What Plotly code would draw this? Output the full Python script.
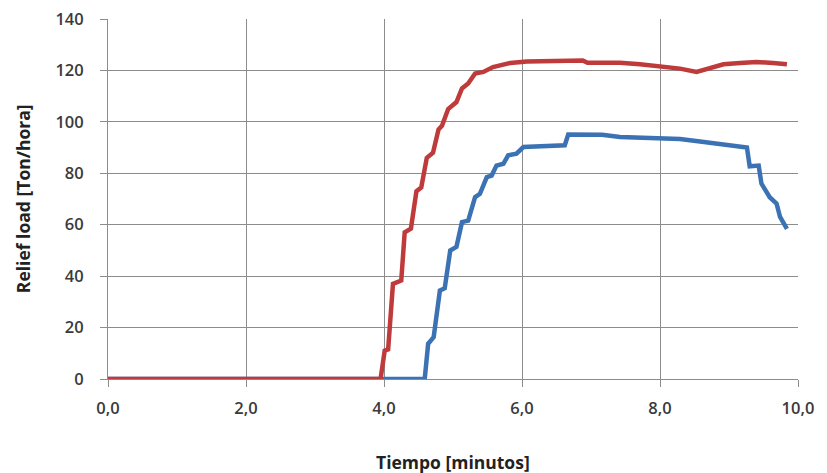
import plotly.graph_objects as go

# Red series
red_t = [0.0, 3.95, 4.01, 4.06, 4.13, 4.25, 4.30, 4.39, 4.47, 4.54, 4.62, 4.71, 4.79, 4.84,
         4.93, 5.05, 5.13, 5.22, 5.32, 5.44, 5.58, 5.83, 6.07, 6.55, 6.88, 6.95, 7.42, 7.71,
         8.0, 8.29, 8.53, 8.68, 8.92, 9.16, 9.40, 9.64, 9.84]
red_v = [0, 0, 11, 11.5, 37, 38.3, 57, 58.5, 73, 74.5, 86, 88, 97, 98.5,
         105, 107.7, 113, 114.9, 118.8, 119.4, 121.3, 122.9, 123.5, 123.6, 123.9, 123.0, 123.0, 122.4,
         121.6, 120.7, 119.4, 120.7, 122.4, 122.9, 123.3, 122.9, 122.4]

# Blue series
blue_t = [0.0, 4.59, 4.64, 4.72, 4.81, 4.88, 4.96, 5.05, 5.13, 5.22, 5.32, 5.39, 5.49, 5.56,
          5.63, 5.73, 5.80, 5.92, 6.02, 6.55, 6.62, 6.67, 7.16, 7.42, 8.0, 8.29, 8.58, 8.82,
          9.06, 9.26, 9.30, 9.43, 9.47, 9.59, 9.69, 9.74, 9.84]
blue_v = [0, 0, 13.7, 16.3, 34.4, 35.3, 50, 51.4, 61, 61.6, 70.7, 72, 78.5, 79.1,
          83, 83.7, 87, 87.6, 90.2, 90.9, 90.9, 95.1, 95.0, 94.1, 93.8, 93.3, 92.4, 91.5,
          90.5, 90.0, 82.7, 83.0, 76.0, 70.7, 68.2, 63.0, 58.4]

x_ticks = [0, 2, 4, 6, 8, 10]
x_ticklabels = ["0,0", "2,0", "4,0", "6,0", "8,0", "10,0"]
y_ticks = [0, 20, 40, 60, 80, 100, 120, 140]
x_title = "Tiempo [minutos]"
y_title = "Relief load [Ton/hora]"

fig = go.Figure()
fig.add_trace(go.Scatter(x=blue_t, y=blue_v, mode="lines",
                         line=dict(color="#3B72B4", width=4.5), showlegend=False))
fig.add_trace(go.Scatter(x=red_t, y=red_v, mode="lines",
                         line=dict(color="#BF3B3B", width=4.5), showlegend=False))

font = "Open Sans"
grid = "#8C8C8C"
tick_color = "#3A3A3A"
fig.update_layout(
    width=827, height=473,
    margin=dict(l=108, r=29, t=19, b=94),
    paper_bgcolor="white", plot_bgcolor="white",
    font=dict(family=font, color=tick_color, size=16),
    xaxis=dict(range=[0, 10], tickvals=x_ticks, ticktext=x_ticklabels,
               showgrid=True, gridcolor=grid, gridwidth=1,
               showline=True, linecolor=grid, linewidth=1,
               ticks="outside", ticklen=7, tickcolor=grid,
               zeroline=False, automargin=False, ticklabelstandoff=7,
               ticklabeloverflow="allow",
               tickfont=dict(family=font, size=16.5, color=tick_color, weight=600)),
    yaxis=dict(range=[0, 140], tickvals=y_ticks,
               showgrid=True, gridcolor=grid, gridwidth=1,
               showline=True, linecolor=grid, linewidth=1,
               ticks="outside", ticklen=7, tickcolor=grid,
               zeroline=False, automargin=False, ticklabelstandoff=13,
               ticklabeloverflow="allow",
               tickfont=dict(family=font, size=16.5, color=tick_color, weight=600)),
    annotations=[
        dict(text="<b>" + x_title + "</b>", xref="paper", yref="paper",
             x=0.5, y=-0.23, xanchor="center", yanchor="middle", showarrow=False,
             font=dict(family=font, size=17.5, color="#222222")),
        dict(text="<b>" + y_title + "</b>", xref="paper", yref="paper",
             x=-0.123, y=0.5, xanchor="center", yanchor="middle", showarrow=False,
             textangle=-90, font=dict(family=font, size=17.5, color="#222222")),
    ],
)
fig.write_html("out.html", config={"displayModeBar": False},
               post_script="document.body.style.margin='0';document.body.style.overflow='hidden';")
